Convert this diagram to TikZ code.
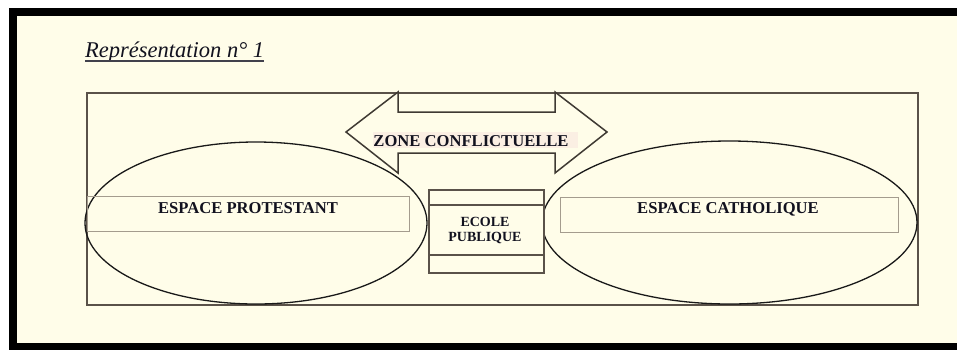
\documentclass[tikz,border=0pt]{standalone}
\usepackage{fontspec}
\setmainfont{Liberation Serif}
\usetikzlibrary{shapes.geometric,calc}
\definecolor{cream}{HTML}{FFFDE9}
\definecolor{boxline}{HTML}{5A5249}
\definecolor{arrowline}{HTML}{3F3A33}
\definecolor{thinbox}{HTML}{A49C8E}
\definecolor{hl}{HTML}{FBEFE3}
\definecolor{ink}{HTML}{12121F}
\tikzset{
  mainbox/.style={draw=boxline, line width=2pt},
  oval/.style={ellipse, draw=black!90, line width=1.3pt, inner sep=0pt},
  textbox/.style={draw=thinbox, line width=1pt, inner sep=0pt, anchor=north west},
  lbl/.style={inner sep=0pt, anchor=base, text=ink, font=\fontsize{16.6}{18}\selectfont\bfseries},
  smalllbl/.style={inner sep=0pt, anchor=base, text=ink, font=\fontsize{14}{15}\selectfont\bfseries},
}
\begin{document}
\begin{tikzpicture}[x=1pt,y=-1pt]
\useasboundingbox (0,0) rectangle (957,349);
\fill[white] (0,0) rectangle (957,349);
\fill[black] (9,8) rectangle (975,365);
\fill[cream] (17,16) rectangle (975,343);

% title
\node[inner sep=0pt, anchor=base west, text=ink, font=\fontsize{22.5}{26}\selectfont\itshape] (title) at (85,57) {Représentation n° 1};
\draw[ink!80, line width=1.5pt] ($(title.base west)+(0,4)$) -- ($(title.base east)+(0,4)$);

% main frame
\node[mainbox, anchor=north west, minimum width=831pt, minimum height=212pt, inner sep=0pt] (cadre) at (86,92) {};

% conflict zone double arrow
\filldraw[fill=cream, draw=arrowline, line width=1.5pt, line join=miter]
  (398,92) -- (398,112) -- (555,112) -- (555,92) -- (607,132) -- (555,173)
  -- (555,153) -- (398,153) -- (398,173) -- (346,132) -- cycle;
\fill[hl] (373,132) rectangle (578,148);
\node[lbl] (zone) at (471,146) {ZONE CONFLICTUELLE};

% ellipses
\node[oval, minimum width=342pt, minimum height=162pt] (prot) at (256,223) {};
\node[oval, minimum width=375pt, minimum height=163pt] (cath) at (729.5,222.5) {};

% inner text boxes
\node[textbox, minimum width=322pt, minimum height=35pt] (protbox) at (87,196) {};
\node[textbox, minimum width=338pt, minimum height=35pt] (cathbox) at (560,197) {};
\node[lbl] (protlbl) at (248,213) {ESPACE PROTESTANT};
\node[lbl] (cathlbl) at (728,213) {ESPACE CATHOLIQUE};

% ecole publique
\node[mainbox, fill=cream, anchor=north west, minimum width=115pt, minimum height=83pt, inner sep=0pt] (ecole) at (428,189) {};
\draw[boxline, line width=2pt] (428,205) -- (543,205);
\draw[boxline, line width=2pt] (428,255) -- (543,255);
\node[smalllbl] (ecole1) at (485,226.7) {ECOLE};
\node[smalllbl] (ecole2) at (485,241.7) {PUBLIQUE};
\end{tikzpicture}
\end{document}
